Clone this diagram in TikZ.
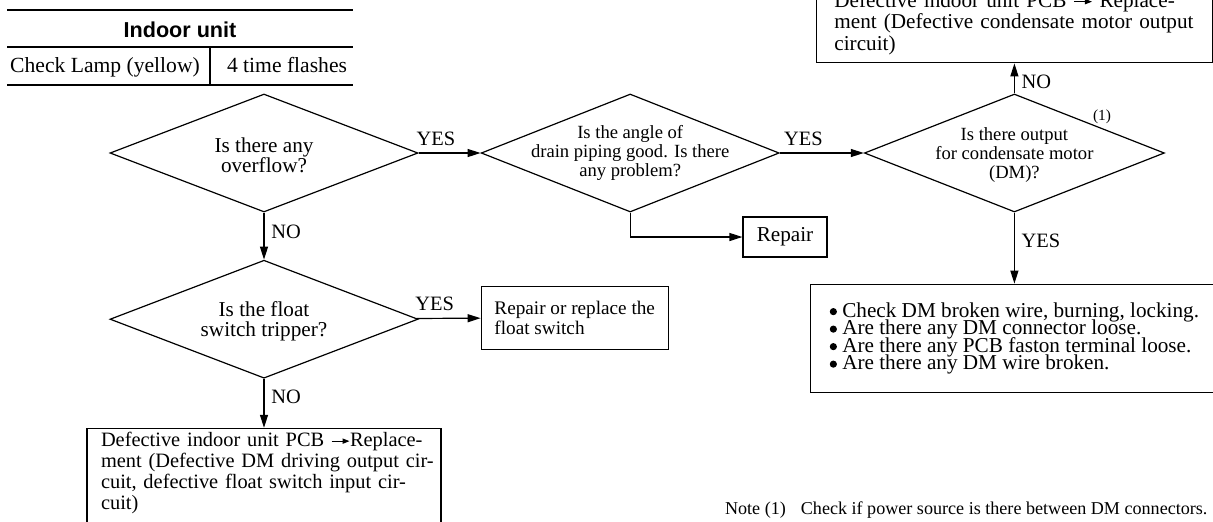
\documentclass[tikz,border=0pt]{standalone}
\usepackage{fontspec}
\setmainfont{Liberation Serif}
\setsansfont{Liberation Sans}
\usetikzlibrary{arrows.meta, shapes.geometric, positioning}

\newcommand{\replarrow}{\tikz[baseline=-0.6ex]\draw[line width=0.5pt,-{Triangle[length=3.5pt,width=2.6pt]}] (0,0) -- (9pt,0);}
\newcommand{\dmbullet}{\tikz[baseline=0pt]\fill (0,2.7pt) circle (1.8pt);}
\newcommand{\tightfont}{\fontsize{10.6}{8.75}\selectfont\lineskiplimit=-20pt\relax}

\begin{document}
\begin{tikzpicture}[
    x=0.5pt, y=-0.5pt,
    node distance=23.5pt and 31pt,
    decision/.style={diamond, draw, line width=0.6pt, inner sep=0pt,
                     minimum height=59pt},
    question/.style={align=center, inner sep=0pt, font=\fontsize{10.6}{10}\selectfont},
    smallq/.style={align=center, inner sep=0pt, font=\fontsize{9.3}{9.5}\selectfont},
    block/.style={rectangle, draw, line width=0.6pt, align=left,
                  font=\fontsize{10.6}{10.7}\selectfont},
    answer/.style={font=\fontsize{10.2}{12}\selectfont},
    arrow/.style={-{Triangle[length=6.5pt, width=4pt]}, line width=0.6pt}
]
    \useasboundingbox (0,0) rectangle (1213,521);
    \clip (0,0) rectangle (1213,521);

    % lamp table
    \draw[line width=1pt] (7,10) -- (353,10);
    \draw[line width=0.6pt] (7,47) -- (353,47);
    \draw[line width=0.6pt] (210,47) -- (210,85);
    \draw[line width=1pt] (7,85) -- (353,85);
    \node[anchor=base, font=\sffamily\bfseries\fontsize{10.8}{12}\selectfont] (unit) at (180,37) {Indoor unit};
    \node[anchor=base, font=\fontsize{10.8}{12}\selectfont] (lamp) at (105,72) {Check Lamp (yellow)};
    \node[anchor=base, font=\fontsize{10.8}{12}\selectfont] (flash) at (287,72) {4 time flashes};

    % decisions
    \node[decision, minimum width=154pt] (overflow) at (264,153) {};
    \node[question] (overflowq) at (264,155) {Is there any\\overflow?};
    \node[decision, minimum width=149pt, right=of overflow] (angle) {};
    \node[smallq] (angleq) at (angle) {Is the angle of\\drain piping good. Is there\\any problem?};
    \node[decision, minimum width=150pt, right=42pt of angle] (output) {};
    \node[smallq] (outputq) at ([yshift=-1pt]output.center) {Is there output\\for condensate motor\\(DM)?};
    \node[font=\fontsize{7.7}{9}\selectfont] (mark) at (1102,117) {(1)};
    \node[decision, minimum width=154pt, below=of overflow] (float) {};
    \node[question] (floatq) at ([yshift=-1pt]float.center) {Is the float\\switch tripper?};

    % results
    \node[block, minimum width=42pt, minimum height=20pt, align=center] (repair) at (785,237) {Repair};
    \node[block, minimum width=93.5pt, minimum height=31.5pt, yshift=0.75pt,
          font=\fontsize{9.6}{9.8}\selectfont, right=of float] (fix)
      {Repair or replace the\\float switch};
    \node[block, text width=163pt, inner xsep=7pt, inner ysep=2pt, text depth=46pt,
          font=\fontsize{10.2}{10.5}\selectfont, below=24.5pt of float] (pcb)
      {\makebox[\linewidth][s]{Defective indoor unit PCB \replarrow Replace-}\\
       \makebox[\linewidth][s]{ment (Defective DM driving output cir-}\\
       \makebox[\linewidth][s]{cuit, defective float switch input cir-}\\
       cuit)};
    \node[block, text width=180pt, inner xsep=9pt, inner ysep=4pt,
          above=15pt of output] (motor)
      {\makebox[\linewidth][s]{Defective indoor unit PCB \replarrow{} Replace-}\\
       \makebox[\linewidth][s]{ment (Defective condensate motor output}\\
       circuit)};
    \node[block, minimum width=204pt, minimum height=54pt,
          font=\tightfont, below=35.5pt of output] (checks)
      {\dmbullet{} Check DM broken wire, burning, locking.\\
       \dmbullet{} Are there any DM connector loose.\\
       \dmbullet{} Are there any PCB faston terminal loose.\\
       \dmbullet{} Are there any DM wire broken.};

    \node[anchor=base west, font=\fontsize{9.05}{10}\selectfont] (note) at (718,514)
      {Note (1)\hspace{7.5pt}Check if power source is there between DM connectors.};

    % connectors
    \draw[arrow] (overflow) -- node[answer, above, pos=0.28] {YES} (angle);
    \draw[arrow] (angle) -- node[answer, above, pos=0.28] {YES} (output);
    \draw[arrow] (angle.south) |- (repair.west);
    \draw[arrow] (overflow) -- node[answer, right, pos=0.4] {NO} (float);
    \draw[arrow] (float) -- node[answer, above, pos=0.28] {YES} (fix);
    \draw[arrow] (float) -- node[answer, right, pos=0.37] {NO} (pcb);
    \draw[arrow] (output) -- node[answer, right, pos=0.37] {NO} (motor);
    \draw[arrow] (output) -- node[answer, right, pos=0.4] {YES} (checks);
\end{tikzpicture}
\end{document}
